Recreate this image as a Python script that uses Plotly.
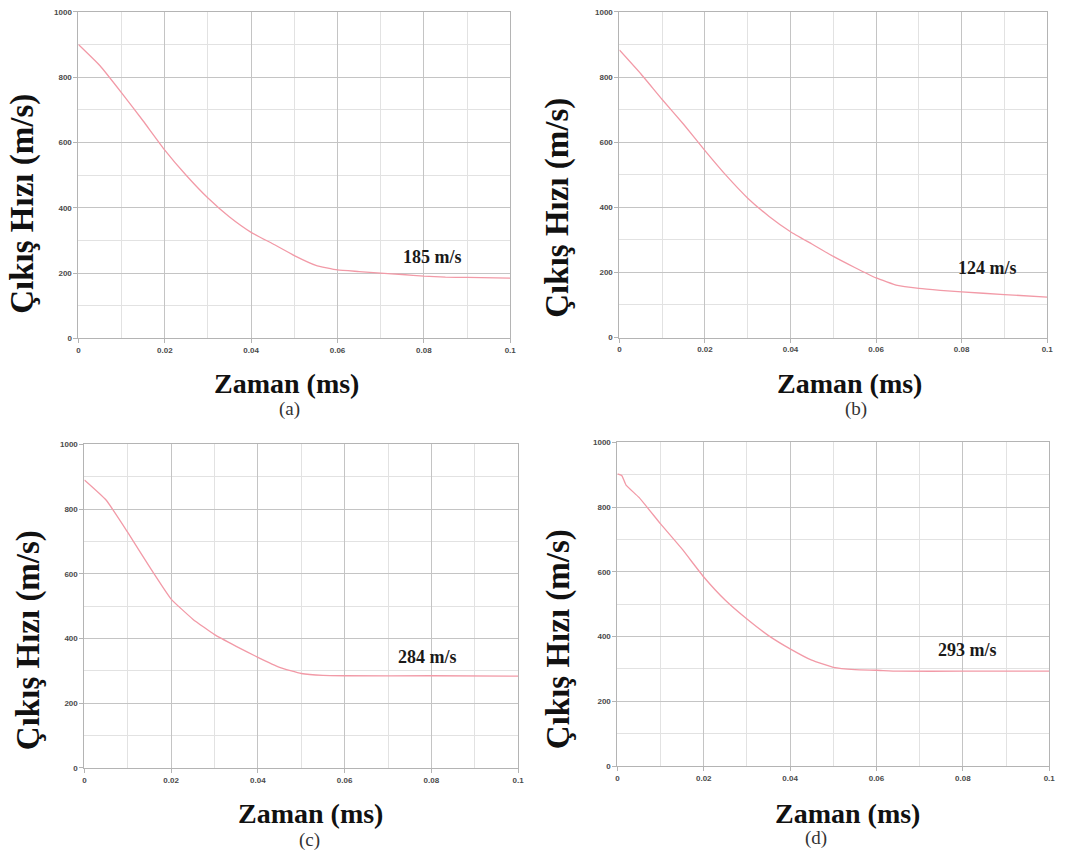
import plotly.graph_objects as go

# Time samples (ms) and exit velocity (m/s) for the four cases
t_a = [0, 0.005, 0.01, 0.015, 0.02, 0.025, 0.03, 0.035, 0.04, 0.045, 0.05,
       0.055, 0.06, 0.065, 0.07, 0.075, 0.08, 0.085, 0.09, 0.1]
v_a = [900, 835, 752, 666, 577, 499, 430, 372, 325, 290, 254,
       224, 210, 205, 200, 196, 191, 188, 187, 185]

t_b = [0, 0.005, 0.01, 0.015, 0.02, 0.025, 0.03, 0.035, 0.04, 0.045, 0.05,
       0.055, 0.06, 0.065, 0.07, 0.075, 0.08, 0.09, 0.1]
v_b = [883, 810, 731, 655, 574, 497, 428, 372, 325, 287, 249,
       215, 183, 160, 151, 145, 140, 132, 124]

t_c = [0, 0.005, 0.01, 0.015, 0.02, 0.025, 0.03, 0.035, 0.04, 0.045, 0.05,
       0.055, 0.06, 0.08, 0.1]
v_c = [890, 828, 728, 622, 522, 460, 412, 376, 342, 311, 292,
       286, 285, 285, 284]

t_d = [0, 0.001, 0.002, 0.005, 0.01, 0.015, 0.02, 0.025, 0.03, 0.035, 0.04,
       0.045, 0.05, 0.055, 0.06, 0.065, 0.08, 0.1]
v_d = [903, 898, 868, 830, 748, 670, 584, 512, 454, 403, 362,
       327, 305, 298, 296, 293, 293, 293]

final_labels = ["185 m/s", "124 m/s", "284 m/s", "293 m/s"]
label_pos = [(0.082, 251), (0.086, 213), (0.079, 342), (0.081, 359)]
panel_tags = ["(a)", "(b)", "(c)", "(d)"]

x_title = "Zaman (ms)"
y_title = "Çıkış Hızı (m/s)"

W, H = 1081, 868

# Plot-area boxes in pixels: (left, right, top, bottom)
boxes = [(77, 512, 8, 338), (622, 1053, 8, 337),
         (83, 520, 445, 772), (620, 1055, 443, 770)]
# Title / tag centres in pixels
xtitle_pos = [(287, 383), (854, 383), (311, 818), (852, 818)]
ytitle_pos = [(21, 202), (560, 206), (27, 643), (560, 642)]
tag_pos = [(290, 409), (860, 409), (310, 845), (820, 843)]

series = [(t_a, v_a), (t_b, v_b), (t_c, v_c), (t_d, v_d)]

fig = go.Figure()
layout = {}
annotations = []

def px_x(p):
    return p / W

def px_y(p):
    return 1 - p / H

for i, ((t, v), box) in enumerate(zip(series, boxes)):
    n = "" if i == 0 else str(i + 1)
    xa, ya = "x" + n, "y" + n
    fig.add_trace(go.Scatter(
        x=t, y=v, xaxis=xa, yaxis=ya, mode="lines",
        line=dict(color="#f29aa7", width=1.3, shape="spline", smoothing=0.4),
        showlegend=False, hoverinfo="skip"))
    l, r, top, bot = box
    common = dict(
        showline=True, linecolor="#b4b4b4", linewidth=1, mirror=True,
        showgrid=True, gridcolor="#c4c4c4", gridwidth=1,
        ticks="outside", ticklen=4, tickcolor="#b4b4b4",
        tickfont=dict(family="Liberation Sans, Arial", size=8, color="#4a4a4a", weight="bold"),
        zeroline=False, fixedrange=True,
    )
    layout["xaxis" + n] = dict(
        common, domain=[px_x(l), px_x(r)], anchor=ya, range=[0, 0.1],
        dtick=0.02, tick0=0,
        minor=dict(dtick=0.01, showgrid=True, gridcolor="#e2e2e2", ticks=""),
    )
    layout["yaxis" + n] = dict(
        common, domain=[px_y(bot), px_y(top)], anchor=xa, range=[0, 1000],
        dtick=200, tick0=0,
        minor=dict(dtick=100, showgrid=True, gridcolor="#e2e2e2", ticks=""),
    )
    lx, ly = label_pos[i]
    annotations.append(dict(
        x=lx, y=ly, xref=xa, yref=ya, text=final_labels[i], showarrow=False,
        font=dict(family="Liberation Serif, Times New Roman", size=18,
                  color="#1a1a1a", weight="bold")))
    cx, cy = xtitle_pos[i]
    annotations.append(dict(
        x=px_x(cx), y=px_y(cy), xref="paper", yref="paper", text=x_title,
        showarrow=False, xanchor="center", yanchor="middle",
        font=dict(family="Liberation Serif, Times New Roman", size=28,
                  color="#111111", weight="bold")))
    cx, cy = ytitle_pos[i]
    annotations.append(dict(
        x=px_x(cx), y=px_y(cy), xref="paper", yref="paper", text=y_title,
        showarrow=False, textangle=-90, xanchor="center", yanchor="middle",
        font=dict(family="Liberation Serif, Times New Roman", size=33,
                  color="#111111", weight="bold")))
    cx, cy = tag_pos[i]
    annotations.append(dict(
        x=px_x(cx), y=px_y(cy), xref="paper", yref="paper", text=panel_tags[i],
        showarrow=False, xanchor="center", yanchor="middle",
        font=dict(family="Liberation Serif, Times New Roman", size=19,
                  color="#333333")))

fig.update_layout(
    width=W, height=H,
    margin=dict(l=0, r=0, t=0, b=0),
    paper_bgcolor="white", plot_bgcolor="white",
    annotations=annotations,
    **layout,
)

fig.write_html("out.html", config={"displayModeBar": False})
